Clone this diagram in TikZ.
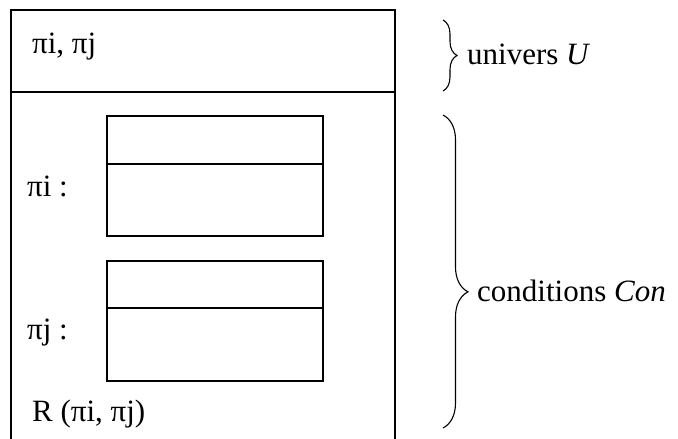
\documentclass[tikz,border=0pt]{standalone}
\usepackage{fontspec}
\setmainfont{Liberation Serif}
\usetikzlibrary{decorations.pathreplacing}
\begin{document}
\begin{tikzpicture}[x=1pt,y=-1pt,
  frame/.style={line width=1.4pt,line cap=rect},
  cell/.style={draw,line width=1.4pt,minimum width=216pt,inner sep=0pt},
  lbl/.style={font=\fontsize{31}{36}\selectfont,inner sep=0pt,anchor=base west},
  curly/.style={decorate,line width=1.1pt,decoration={brace,amplitude=#1}}]
\useasboundingbox (0,0) rectangle (678,439);
% outer frame
\coordinate (bl) at (11,439);
\coordinate (tl) at (11,10);
\coordinate (tr) at (395,10);
\coordinate (br) at (395,439);
\coordinate (dl) at (11,92);
\coordinate (dr) at (395,92);
\draw[frame] (bl) -- (tl) -- (tr) -- (br);
\draw[frame] (dl) -- (dr);
% inner boxes
\node[cell,minimum height=120pt] (b1) at (215,176) {};
\node[cell,minimum height=120pt] (b2) at (215,321) {};
\coordinate (b1l) at (107,164); \coordinate (b1r) at (323,164);
\coordinate (b2l) at (107,308); \coordinate (b2r) at (323,308);
\draw[line width=1.4pt] (b1l) -- (b1r);
\draw[line width=1.4pt] (b2l) -- (b2r);
% labels
\node[lbl] (u) at (32,53) {πi, πj};
\node[lbl] (pi) at (27,196) {πi :};
\node[lbl] (pj) at (27,339) {πj :};
\node[lbl] (r) at (32,421) {R (πi, πj)};
% braces
\coordinate (c1t) at (443,20); \coordinate (c1b) at (443,91);
\coordinate (c2t) at (443,115); \coordinate (c2b) at (443,428);
\draw[curly=14pt] (c1t) -- (c1b);
\draw[curly=25pt,decoration={aspect=0.565}] (c2t) -- (c2b);
\node[lbl] (univ) at (467,64) {univers \textit{U}};
\node[lbl] (cond) at (477,301) {conditions \textit{Con}};
\end{tikzpicture}
\end{document}
